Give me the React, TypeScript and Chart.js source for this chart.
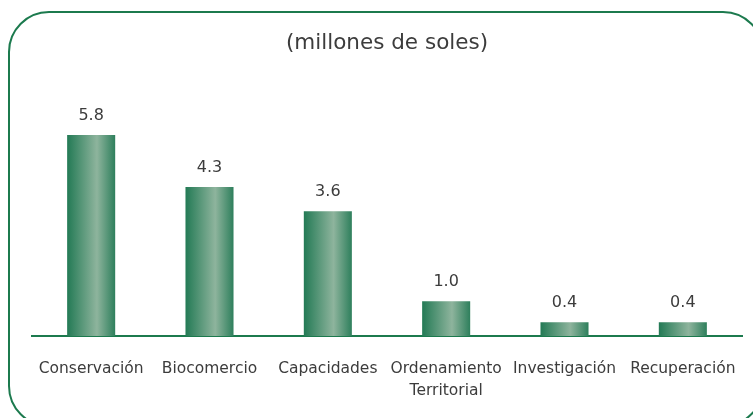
import React, { useEffect, useRef } from "react";
import { Chart, registerables } from "chart.js";

Chart.register(...registerables);

const categories: (string | string[])[] = [
  "Conservación",
  "Biocomercio",
  "Capacidades",
  ["Ordenamiento", "Territorial"],
  "Investigación",
  "Recuperación",
];
const values: number[] = [5.8, 4.3, 3.6, 1.0, 0.4, 0.4];
const valueLabels: string[] = ["5.8", "4.3", "3.6", "1.0", "0.4", "0.4"];
const titleText = "(millones de soles)";

const FONT = "'DejaVu Sans', sans-serif";
const GREEN = "#1c7a4e";
const TEXT = "#3c3c3c";
const BAR_PCT = 0.406;

const frame = {
  id: "frame",
  beforeDraw(chart: any) {
    const ctx = chart.ctx;
    ctx.save();
    ctx.fillStyle = "#ffffff";
    ctx.fillRect(0, 0, chart.width, chart.height);
    ctx.strokeStyle = GREEN;
    ctx.lineWidth = 2;
    ctx.beginPath();
    ctx.roundRect(9, 12, 754, 414, 40);
    ctx.stroke();
    ctx.restore();
  },
};

const valueLabelPlugin = {
  id: "valueLabels",
  afterDatasetsDraw(chart: any) {
    const ctx = chart.ctx;
    const meta = chart.getDatasetMeta(0);
    ctx.save();
    ctx.font = `16px ${FONT}`;
    ctx.fillStyle = TEXT;
    ctx.textAlign = "center";
    ctx.textBaseline = "alphabetic";
    meta.data.forEach((el: any, i: number) => {
      ctx.fillText(valueLabels[i], el.x, el.y - 15);
    });
    ctx.restore();
  },
};

function barGradient(context: any) {
  const chart = context.chart;
  const xs = chart.scales && chart.scales.x;
  if (!chart.chartArea || !xs || context.dataIndex == null) return "#3f8a66";
  const cx = xs.getPixelForValue(context.dataIndex);
  const step = xs.getPixelForValue(1) - xs.getPixelForValue(0);
  const w = step * BAR_PCT;
  const g = chart.ctx.createLinearGradient(cx - w / 2, 0, cx + w / 2, 0);
  g.addColorStop(0, "#237a55");
  g.addColorStop(0.62, "#8eb49d");
  g.addColorStop(1, "#2e7f5c");
  return g;
}

export default function App() {
  const ref = useRef<HTMLCanvasElement | null>(null);
  useEffect(() => {
    if (!ref.current) return;
    const chart = new Chart(ref.current, {
      type: "bar",
      data: {
        labels: categories,
        datasets: [
          {
            data: values,
            backgroundColor: barGradient,
            borderWidth: 0,
            barPercentage: BAR_PCT,
            categoryPercentage: 1,
          },
        ],
      },
      options: {
        animation: false,
        responsive: false,
        devicePixelRatio: 1,
        layout: { padding: { left: 32, right: 11, top: 0, bottom: 0 } },
        plugins: {
          legend: { display: false },
          tooltip: { enabled: false },
          title: {
            display: true,
            text: titleText,
            color: TEXT,
            font: { family: FONT, size: 21.5, weight: "normal", lineHeight: 1.2 },
            padding: { top: 31, bottom: 2 },
          },
        },
        scales: {
          x: {
            grid: { display: false, drawTicks: false },
            border: { display: true, color: GREEN, width: 2 },
            ticks: {
              color: TEXT,
              font: { family: FONT, size: 15.5, lineHeight: 1.42 },
              padding: 22,
              autoSkip: false,
              maxRotation: 0,
              minRotation: 0,
            },
            afterFit: (scale: any) => {
              scale.height = 82;
              scale.paddingLeft = 0;
              scale.paddingRight = 0;
            },
          },
          y: {
            display: false,
            min: 0,
            max: 8,
          },
        },
      },
      plugins: [frame, valueLabelPlugin],
    });
    return () => chart.destroy();
  }, []);
  return (
    <div style={{ position: "fixed", left: 0, top: 0, width: 753, height: 418 }}>
      <canvas ref={ref} width={753} height={418} style={{ display: "block" }} />
    </div>
  );
}
